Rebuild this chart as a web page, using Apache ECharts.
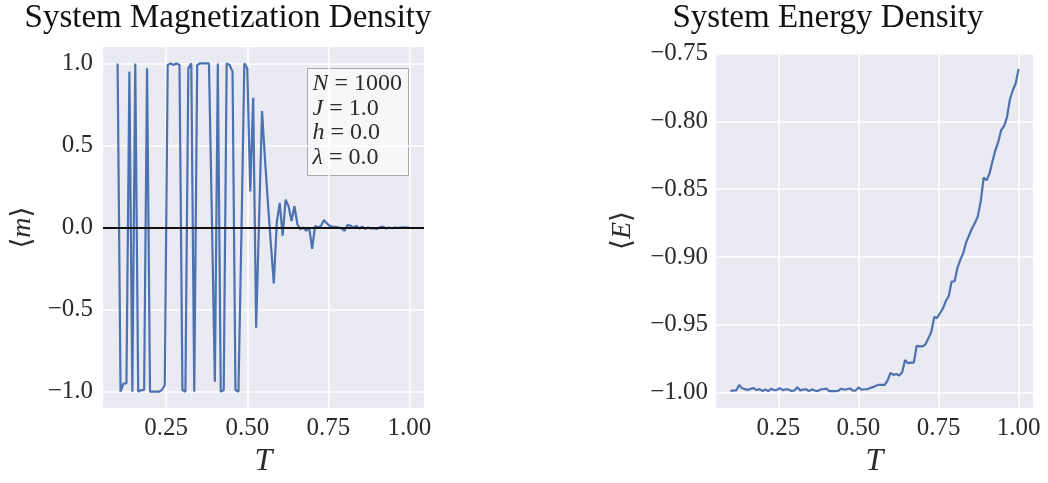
<!DOCTYPE html>
<html><head><meta charset="utf-8">
<script src="https://cdn.jsdelivr.net/npm/echarts@6/dist/echarts.min.js"></script>
<style>html,body{margin:0;padding:0;background:#fff}#c{width:1048px;height:483px}</style>
</head><body><div id="c"></div>
<script>
// ---- data ----
const T = [
0.1000,0.1091,0.1182,0.1273,0.1364,0.1455,0.1545,0.1636,0.1727,0.1818,0.1909,
0.2000,0.2091,0.2182,0.2273,0.2364,0.2455,0.2545,0.2636,0.2727,0.2818,0.2909,
0.3000,0.3091,0.3182,0.3273,0.3364,0.3455,0.3545,0.3636,0.3727,0.3818,0.3909,
0.4000,0.4091,0.4182,0.4273,0.4364,0.4455,0.4545,0.4636,0.4727,0.4818,0.4909,
0.5000,0.5091,0.5182,0.5273,0.5364,0.5455,0.5545,0.5636,0.5727,0.5818,0.5909,
0.6000,0.6091,0.6182,0.6273,0.6364,0.6455,0.6545,0.6636,0.6727,0.6818,0.6909,
0.7000,0.7091,0.7182,0.7273,0.7364,0.7455,0.7545,0.7636,0.7727,0.7818,0.7909,
0.8000,0.8091,0.8182,0.8273,0.8364,0.8455,0.8545,0.8636,0.8727,0.8818,0.8909,
0.9000,0.9091,0.9182,0.9273,0.9364,0.9455,0.9545,0.9636,0.9727,0.9818,0.9909,
1.0000];
const magnetization = [
1.0,-1.0,-0.95,-0.95,0.95,-1.0,1.0,-1.0,-0.99,-0.99,
0.97,-1.0,-1.0,-1.0,-1.0,-0.99,-0.96,0.99,1.0,0.99,
1.0,0.99,-0.99,-1.0,0.97,1.0,-1.0,0.99,1.0,1.0,
1.0,1.0,0.05,-0.94,1.0,-1.0,-0.99,1.0,0.99,0.95,
-0.99,-1.0,-0.05,1.0,0.97,0.22,0.79,-0.61,0.05,0.71,
0.42,0.15,-0.1,-0.34,0.03,0.15,-0.05,0.17,0.13,0.04,
0.13,0.02,-0.01,0.0,-0.02,0.0,-0.13,0.01,0.0,0.01,
0.046,0.025,0.01,0.005,0.004,0.0,-0.005,-0.02,0.015,0.012,
0.0,0.01,-0.006,0.006,-0.008,0.0,-0.006,-0.004,-0.008,0.002,
0.006,-0.006,0.0,-0.004,0.0,-0.002,0.0,0.001,0.0,0.0];
const energy = [
-0.9988,-0.9985,-0.9985,-0.9945,-0.9968,-0.9975,-0.9982,-0.9972,-0.9968,-0.9982,
-0.9975,-0.9988,-0.9978,-0.9990,-0.9972,-0.9982,-0.9980,-0.9968,-0.9982,-0.9976,
-0.9978,-0.9988,-0.9985,-0.9962,-0.9985,-0.9978,-0.9976,-0.9990,-0.9977,-0.9985,
-0.9990,-0.9978,-0.9974,-0.9972,-0.9990,-0.9990,-0.9990,-0.9988,-0.9972,-0.9978,
-0.9976,-0.9970,-0.9985,-0.9986,-0.9962,-0.9978,-0.9976,-0.9976,-0.9966,-0.9960,
-0.9950,-0.9943,-0.9943,-0.9943,-0.9910,-0.9856,-0.9870,-0.9863,-0.9875,-0.9851,
-0.9760,-0.9784,-0.9780,-0.9780,-0.9655,-0.9660,-0.9660,-0.9645,-0.9600,-0.9555,
-0.9444,-0.9449,-0.9415,-0.9380,-0.9325,-0.9289,-0.9181,-0.9181,-0.9080,-0.9020,
-0.8970,-0.8890,-0.8840,-0.8790,-0.8750,-0.8700,-0.8590,-0.8414,-0.8434,-0.8385,
-0.8295,-0.8215,-0.8151,-0.8065,-0.8035,-0.7970,-0.7840,-0.7770,-0.7720,-0.7612];
const tTicks = [0.25, 0.50, 0.75, 1.00];
const mTicks = [-1.0, -0.5, 0.0, 0.5, 1.0];
const eTicks = [-1.00, -0.95, -0.90, -0.85, -0.80, -0.75];
const titles = ['System Magnetization Density', 'System Energy Density'];
const statsLines = [['N', '1000'], ['J', '1.0'], ['h', '0.0'], ['\u03bb', '0.0']];

// ---- styles ----
const SERIF = '"Liberation Serif", "DejaVu Serif", serif';
const BLUE = '#4C72B0';
const BG = '#EAEAF2';
const TXT = '#2b2b2b';

function tickFmt(ticks, dec) {
  return function (v) {
    if (!ticks.some(t => Math.abs(t - v) < 1e-6)) return '';
    if (Math.abs(v) < 1e-9) v = 0;
    return v.toFixed(dec).replace('-', '\u2212');
  };
}
function step(ticks) { return +(ticks[1] - ticks[0]).toFixed(6); }

function xAxisCfg(grid) {
  return {
    type: 'value', gridIndex: grid, min: 0.055, max: 1.045,
    minInterval: step(tTicks), maxInterval: step(tTicks),
    axisLine: { show: false }, axisTick: { show: false },
    splitLine: { show: true, showMinLine: false, showMaxLine: false, lineStyle: { color: '#fff', width: 1.6 } },
    axisLabel: { formatter: tickFmt(tTicks, 2), fontFamily: SERIF, fontSize: 25, color: TXT, margin: 8 },
    name: 'T', nameLocation: 'middle', nameGap: 32,
    nameTextStyle: { fontFamily: SERIF, fontStyle: 'italic', fontSize: 32, color: TXT }
  };
}
function yName(letter) { return '{b|\u27e8}{i|' + letter + '}{b|\u27e9}'; }
const yNameRich = {
  b: { fontFamily: SERIF, fontSize: 28, color: TXT },
  i: { fontFamily: SERIF, fontStyle: 'italic', fontSize: 28, color: TXT }
};

const statsText = statsLines.map(l => '{i|' + l[0] + '}{r| = ' + l[1] + '}').join('\n');

const chart = echarts.init(document.getElementById('c'), null, { renderer: 'canvas' });
chart.setOption({
  animation: false,
  backgroundColor: '#fff',
  title: [
    { text: titles[0], left: 223, top: -3, textAlign: 'center',
      textStyle: { fontFamily: SERIF, fontWeight: 'normal', fontSize: 33, color: '#111' } },
    { text: titles[1], left: 823, top: -3, textAlign: 'center',
      textStyle: { fontFamily: SERIF, fontWeight: 'normal', fontSize: 33, color: '#111' } }
  ],
  grid: [
    { left: 103, top: 47, width: 321, height: 368, show: true, backgroundColor: BG, borderWidth: 0 },
    { left: 716, top: 53, width: 317, height: 363, show: true, backgroundColor: BG, borderWidth: 0 }
  ],
  xAxis: [xAxisCfg(0), xAxisCfg(1)],
  yAxis: [
    { type: 'value', gridIndex: 0, min: -1.1, max: 1.1,
      minInterval: step(mTicks), maxInterval: step(mTicks),
      axisLine: { show: false }, axisTick: { show: false },
      splitLine: { show: true, showMinLine: false, showMaxLine: false, lineStyle: { color: '#fff', width: 1.6 } },
      axisLabel: { formatter: tickFmt(mTicks, 1), fontFamily: SERIF, fontSize: 25, color: TXT, margin: 10 },
      name: yName('m'), nameLocation: 'middle', nameGap: 66,
      nameTextStyle: { rich: yNameRich } },
    { type: 'value', gridIndex: 1, min: -1.0115, max: -0.7495,
      minInterval: step(eTicks), maxInterval: step(eTicks),
      axisLine: { show: false }, axisTick: { show: false },
      splitLine: { show: true, showMinLine: false, showMaxLine: false, lineStyle: { color: '#fff', width: 1.6 } },
      axisLabel: { formatter: tickFmt(eTicks, 2), fontFamily: SERIF, fontSize: 25, color: TXT, margin: 8 },
      name: yName('E'), nameLocation: 'middle', nameGap: 79,
      nameTextStyle: { rich: yNameRich } }
  ],
  series: [
    { type: 'line', xAxisIndex: 0, yAxisIndex: 0, symbol: 'none',
      data: T.map((t, i) => [t, magnetization[i]]),
      lineStyle: { color: BLUE, width: 2.2 },
      markLine: { silent: true, symbol: ['none', 'none'], label: { show: false },
        lineStyle: { color: '#111', width: 2, type: 'solid' },
        data: [{ yAxis: 0 }] } },
    { type: 'line', xAxisIndex: 1, yAxisIndex: 1, symbol: 'none',
      data: T.map((t, i) => [t, energy[i]]),
      lineStyle: { color: BLUE, width: 2.2 } }
  ],
  graphic: [
    { type: 'group', left: 307, top: 68, z: 100, children: [
      { type: 'rect', shape: { x: 0, y: 0, width: 101, height: 107 },
        style: { fill: 'rgba(255,255,255,0.6)', stroke: '#A8A8A8', lineWidth: 1 } },
      { type: 'text', x: 5, y: 3,
        style: { text: statsText, fill: TXT, fontFamily: SERIF, fontSize: 24, lineHeight: 24.5,
          rich: {
            i: { fontFamily: SERIF, fontStyle: 'italic', fontSize: 24, lineHeight: 24.5, fill: TXT },
            r: { fontFamily: SERIF, fontSize: 24, lineHeight: 24.5, fill: TXT }
          } } }
    ] }
  ]
});
</script></body></html>
